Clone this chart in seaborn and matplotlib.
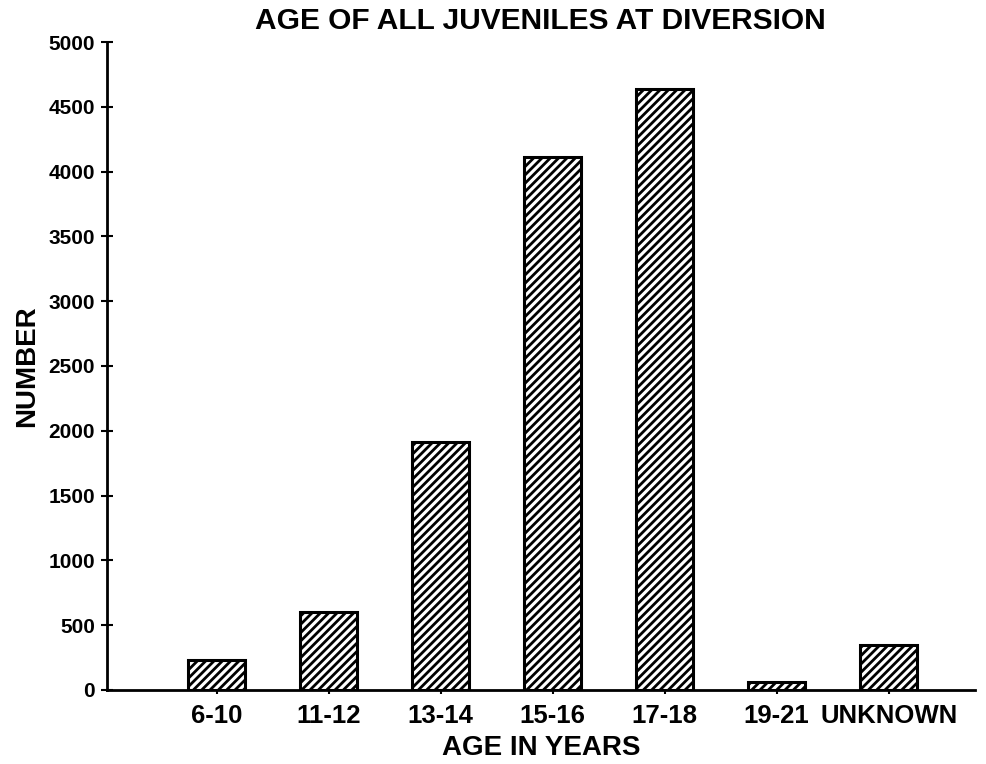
import pandas as pd
import seaborn as sns
import matplotlib.pyplot as plt

# values
age_groups = ['6-10', '11-12', '13-14', '15-16', '17-18', '19-21', 'UNKNOWN']
counts = [235, 600, 1910, 4110, 4640, 60, 345]

df = pd.DataFrame({'age': age_groups, 'number': counts})

sns.set_style('white')
plt.rcParams['font.family'] = ['Liberation Sans', 'DejaVu Sans']
plt.rcParams['font.weight'] = 'bold'
plt.rcParams['text.color'] = 'black'
plt.rcParams['axes.labelcolor'] = 'black'
plt.rcParams['xtick.color'] = 'black'
plt.rcParams['ytick.color'] = 'black'
plt.rcParams['hatch.linewidth'] = 2.0

fig = plt.figure(figsize=(9.87, 7.64), dpi=100)
ax = fig.add_axes([0.1084, 0.0969, 0.8794, 0.8481])

sns.barplot(data=df, x='age', y='number', color='white', edgecolor='black',
            linewidth=2.2, width=0.51, hatch='////', ax=ax)

ax.set_xlim(-0.98, 6.77)
ax.set_ylim(0, 5000)
ax.set_yticks(range(0, 5001, 500))
ax.tick_params(axis='y', left=True, direction='inout', length=9, width=1.5,
               labelsize=15, pad=4, colors='black')
ax.tick_params(axis='x', bottom=True, direction='out', length=3, width=1.5,
               labelsize=18.5, pad=7, colors='black')
for lab in ax.get_xticklabels() + ax.get_yticklabels():
    lab.set_fontweight('bold')

sns.despine(ax=ax)
ax.spines['left'].set_linewidth(2)
ax.spines['bottom'].set_linewidth(2)
ax.spines['left'].set_color('black')
ax.spines['bottom'].set_color('black')

ax.set_xlabel('AGE IN YEARS', fontsize=20, fontweight='bold', labelpad=5)
ax.set_ylabel('NUMBER', fontsize=20, fontweight='bold', labelpad=6)
fig.text(0.547, 0.973, 'AGE OF ALL JUVENILES AT DIVERSION', ha='center', va='center',
         fontsize=21.5, fontweight='bold')

plt.savefig('out.png', dpi=100)
